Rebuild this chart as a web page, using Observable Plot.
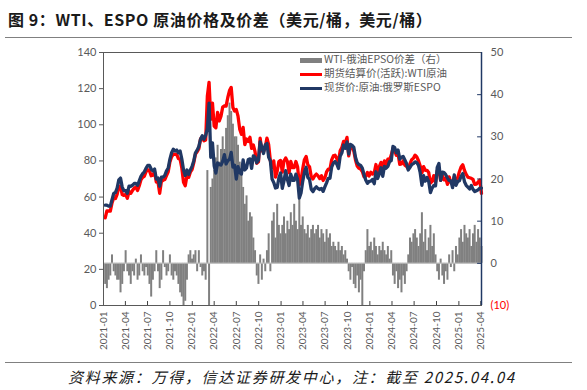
<!DOCTYPE html>
<html><head><meta charset="utf-8">
<script src="https://cdn.jsdelivr.net/npm/d3@7"></script>
<script src="https://cdn.jsdelivr.net/npm/@observablehq/plot@0.6"></script>
<style>
body{margin:0;background:#fff;}
#wrap{position:relative;width:587px;height:390px;font-family:"Noto Sans CJK SC",sans-serif;overflow:hidden;}
#title{position:absolute;left:8px;top:8px;font-size:16px;font-weight:bold;color:#1a1a1a;white-space:nowrap;line-height:22px;letter-spacing:0.6px;}
.hr{position:absolute;left:5px;width:567px;height:0;border-top:1.5px solid #808080;}
#caption{position:absolute;left:68px;top:366px;font-size:15px;font-style:italic;color:#1a1a1a;white-space:nowrap;line-height:22px;letter-spacing:1.7px;}
#chart{position:absolute;left:0;top:40px;}
.lg{position:absolute;left:300px;font-size:10.5px;color:#595959;white-space:nowrap;line-height:12px;height:12px;}
.sw{display:inline-block;width:22px;vertical-align:middle;margin-right:2px;}
</style></head>
<body>
<div id="wrap">
  <div id="title">图 9：WTI、ESPO 原油价格及价差（美元/桶，美元/桶）</div>
  <div class="hr" style="top:37px"></div>
  <div id="chart"></div>
  <div class="lg" style="top:53px"><span class="sw" style="height:5px;background:#808080"></span>WTI-俄油EPSO价差（右）</div>
  <div class="lg" style="top:67px"><span class="sw" style="height:3px;background:#ff0000"></span>期货结算价(活跃):WTI原油</div>
  <div class="lg" style="top:81px"><span class="sw" style="height:3px;background:#203864"></span>现货价:原油:俄罗斯ESPO</div>
  <div class="hr" style="top:362px"></div>
  <div id="caption">资料来源：万得，信达证券研发中心，注：截至 2025.04.04</div>
</div>
<script>
// Weekly observations (Fridays) starting 2021-01-08
const wti2021 = [48.5,52.4,52.3,52.2, 56.8,59.5,59.2,61.5, 66.1,65.6,61.4,60.9, 61.5,59.3,63.1,62.1,63.6, 64.9,65.4,63.6,66.3, 69.6,70.9,71.6,74.0, 75.2,74.6,71.8,72.1,73.9, 68.3,68.4,62.1,68.7, 69.3,69.7,71.9,74.0, 79.4,82.3,83.8,83.6,83.6, 81.3,80.8,76.1,68.2, 66.3,71.7,70.9,73.8,75.2];
const wti2022 = [78.9,83.8,85.1,86.8, 92.3,93.1,91.1,91.6, 116,123.5,103,112, 99.3,98.3,106.9,102.1,104.7, 109.8,110.5,110.3,115.1, 118.9,120.7,109.6,107.6, 108.4,104.8,97.6,94.7,98.6, 89.0,92.1,90.8,93.1, 86.9,88.8,85.1,78.7,79.5, 92.6,85.6,85.1,87.9, 92.6,89.0,80.1,76.3, 80.0,71.0,74.3,79.6,80.3];
const wti2023 = [73.8,79.9,81.6,79.7, 73.4,79.7,76.3,76.3, 79.7,76.7,66.7,69.3,75.7, 80.7,82.5,77.9,76.8, 71.3,70.0,71.7,72.7, 71.7,70.2,71.8,69.2,70.6, 73.9,75.4,75.4,80.6, 82.8,83.2,81.3,79.8, 85.6,87.5,90.8,90.0,93.0, 82.8,87.7,88.1,85.5, 80.5,77.2,75.9,75.5, 74.1,71.2,71.4,73.6,71.7];
const wti2024 = [73.8,72.7,73.4,78.0, 72.3,76.8,79.2,76.5, 80.0,78.0,81.0,80.6,83.2, 86.9,85.7,83.1,83.9, 78.1,78.3,80.1,77.7,77.0, 75.5,78.5,80.7,81.5, 83.2,82.2,80.1,77.2, 73.5,76.8,74.8,74.8,73.6, 67.7,68.7,71.9,68.2, 74.4,75.6,69.2,71.8, 69.5,70.4,67.0,71.2,68.0, 67.2,71.3,69.5,70.6];
const wti2025 = [74.0,76.6,77.9,74.7,72.5, 71.0,70.7,70.4,69.8, 67.0,67.2,68.3,69.4, 62.0];

const espo2021 = [55.5,55.5,55,55, 58.5,62,62.5,65, 69.5,70.5,65.5,63.5, 63.5,62,66,66,66.5, 67.5,67.5,66.5,69, 71.5,73,74,76, 77.5,77.5,75.5,74.5,75.5, 70,70.5,66,71, 71,72,74.5,76, 81,84.5,86.5,85.5,86, 84.5,85.5,81,75, 72,75,72.5,75,77];
const espo2022 = [80,84.5,86,88, 92,94,92,94, 98,112,82,90, 77.3,73.3,78.9,78.1,77.7, 79.8,83.5,78.3,80.1, 80.9,84.7,76.6,77.6, 70,76.8,73.6,72.7,80.6, 75,76.1,80.8,81.1, 75.9,82.8,82.1,79,80.5, 90.6,87.6,84.1,88.9, 89.6,82,80.1,70, 68,65,65.3,70.6,73.3];
const espo2023 = [64.8,68.9,74.6,69.7, 66.4,72.7,69.3,69.3, 72.7,69.7,59.5,62.3,68.7, 73.7,76.5,70.9,69.8, 64.3,63,64.7,65.7, 64.7,64.2,64.8,63.2,65.6, 67.9,70.4,70.4,76.6, 78.8,79.7,78.3,75.8, 82.6,84.5,88.8,87,90.5, 83.8,89.2,88.6,87.5, 82,79,78,77.5, 76,72.5,69.4,67.6,68.7];
const espo2024 = [68.8,69.7,67.4,74, 70.3,72.8,76.2,71.5, 77,76,77,79.6,80.2, 88,87.5,84.5,86, 81,82,82.5,80.5,78.5, 75,76.5,78,78.5, 79.5,79,77.5,73.5, 66.5,71.8,68.8,70.8,68.6, 62.5,65,66.5,66.2, 76.4,78.6,69.2,73.8, 73.5,72.4,70.5,69.2,69, 65.2,72.3,66.5,68.6];
const espo2025 = [69,71.5,73,68.5,66.5, 65.5,64.5,66.4,64.3, 63,63.5,64,65, 65];

const spread2021 = [-5,-6,-4,-3, 2,-2,-3,-4, -4,-7,-5,-2, 3,-2,-3,-5,-2, -3,1,-4,-3, 2,-2,-3,-1, -3,-5,-8,-4,-2, 3,-2,-6,-4, 3,-1,-3,-2, 2,-3,-4,-2,-3, -5,-7,-8,-10, -9,-4,2,3,1];
const spread2022 = [2,3,-2,3, -1,-3,-2,-4, 22,-10,18,20, 22,25,28,24,27, 30,27,32,35, 38,36,33,30, 30,28,24,22,18, 14,16,10,12, 11,6,3,-3,-5, 2,-4,1,-2, 3,7,-2,10, 12,6,14,9,7];
const spread2023 = [9,11,7,10, 8,12,9,14, 10,8,16,9,11, 8,7,9,6, 8,9,7,8, 9,6,8,7,5, 8,6,7,4, 5,4,3,5, 3,4,2,3,1, -2,-4,-1,-5, -6,-3,-7,-4, -10,-2,3,8,4];
const spread2024 = [5,3,6,4, 2,4,3,5, 3,2,4,1,3, -3,-5,-2,-6, -4,-7,-3,-5,-2, 2,6,5,7, 8,6,4,7, 12,5,8,3,6, 9,4,7,2, -2,-4,1,-3, -5,-2,-4,2,-1, 3,-2,4,2];
const spread2025 = [6,8,5,9,7, 6,8,4,7, 9,5,8,6, 4];

const leftTicks = [0,20,40,60,80,100,120,140];
const rightTicks = [-10,0,10,20,30,40,50];

const wti = [...wti2021, ...wti2022, ...wti2023, ...wti2024, ...wti2025];
const espo = [...espo2021, ...espo2022, ...espo2023, ...espo2024, ...espo2025];
const spread = [...spread2021, ...spread2022, ...spread2023, ...spread2024, ...spread2025];

const start = new Date(Date.UTC(2021,0,8));
const mk = arr => arr.map((v,i) => ({date: d3.utcDay.offset(start, 7*i), v}));
const wtiData = mk(wti), espoData = mk(espo), spreadData = mk(spread);

const toLeft = r => (r + 10) * 140 / 60;
const fromLeft = v => Math.round(v * 60 / 140 - 10);
const zeroL = toLeft(0);
const x0 = new Date(Date.UTC(2021,0,1)), x1 = new Date(Date.UTC(2025,3,4));
const quarters = d3.utcMonth.range(x0, new Date(Date.UTC(2025,3,2)), 3);

const chart = Plot.plot({
  width: 587, height: 320,
  marginTop: 12, marginBottom: 55, marginLeft: 103, marginRight: 106,
  style: {fontFamily: "Lato, sans-serif", fontSize: "11px", color: "#595959", background: "transparent"},
  x: {type: "utc", domain: [x0, x1], label: null},
  y: {domain: [0, 140], label: null},
  marks: [
    Plot.ruleX(spreadData, {x: "date", y1: () => zeroL, y2: d => toLeft(d.v), stroke: "#808080", strokeWidth: 2}),
    Plot.ruleY([zeroL], {stroke: "#b8b8b8", strokeWidth: 1}),
    Plot.line(wtiData, {x: "date", y: "v", stroke: "#ff0000", strokeWidth: 3.3}),
    Plot.line(espoData, {x: "date", y: "v", stroke: "#203864", strokeWidth: 3.3}),
    Plot.axisY({anchor: "left", ticks: leftTicks, tickSize: 4, tickPadding: 3, fontSize: 11, label: null}),
    Plot.axisY(rightTicks.map(toLeft), {anchor: "right", label: null, tickSize: 0, tickPadding: 9, fontSize: 11, tickFormat: v => { const r = fromLeft(v); return r < 0 ? `(${-r})` : `${r}`; }}),
    Plot.ruleY(rightTicks.map(toLeft), {x1: () => d3.utcDay.offset(x1, -16), x2: () => x1, y: d => d, stroke: "#203864"}),
    Plot.axisX({ticks: quarters, tickFormat: d3.utcFormat("%Y-%m"), tickRotate: -90, tickSize: 0, tickPadding: 6, fontSize: 10, label: null}),
    Plot.ruleX(quarters, {x: d => d, y1: () => 0, y2: () => 2.2, stroke: "#404040"}),
    Plot.frame({stroke: "#595959"}),
    Plot.ruleX([x1], {stroke: "#203864", strokeWidth: 1.5})
  ]
});
d3.select(chart).selectAll("text").filter(function(){ return this.textContent === "(10)"; }).attr("fill", "#ff0000");
document.getElementById("chart").appendChild(chart);
</script>
</body></html>
